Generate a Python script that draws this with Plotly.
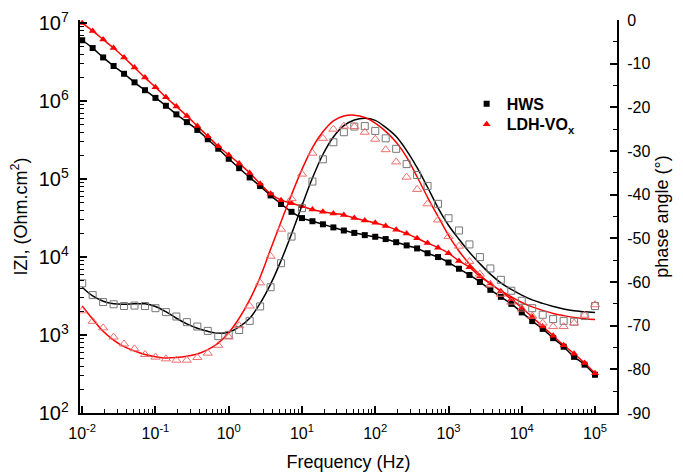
import plotly.graph_objects as go

# Frequency sweep (Hz), 7 points per decade
freq = [0.01, 0.01389, 0.01931, 0.02683, 0.03728, 0.05179, 0.07197,
        0.1, 0.1389, 0.1931, 0.2683, 0.3728, 0.5179, 0.7197,
        1, 1.389, 1.931, 2.683, 3.728, 5.179, 7.197,
        10, 13.89, 19.31, 26.83, 37.28, 51.79, 71.97,
        100, 138.9, 193.1, 268.3, 372.8, 517.9, 719.7,
        1000, 1389, 1931, 2683, 3728, 5179, 7197,
        10000, 13890, 19310, 26830, 37280, 51790, 71970,
        100000]

# x-axis decade ticks and labels
x_tickvals = [0.01, 0.1, 1, 10, 100, 1000, 10000, 100000]
x_ticktext = ["10<sup>-2</sup>", "10<sup>-1</sup>", "10<sup>0</sup>", "10<sup>1</sup>",
              "10<sup>2</sup>", "10<sup>3</sup>", "10<sup>4</sup>", "10<sup>5</sup>"]

# phase axis ticks and labels
ph_tickvals = [0, -10, -20, -30, -40, -50, -60, -70, -80, -90]
ph_ticktext = ["0", "-10", "-20", "-30", "-40", "-50", "-60", "-70", "-80", "-90"]

# |Z| (Ohm.cm2)
z_hws = [6.03e6, 4.79e6, 3.63e6, 2.82e6, 2.24e6, 1.74e6, 1.38e6,
         1.10e6, 8.71e5, 6.76e5, 5.37e5, 4.27e5, 3.24e5, 2.45e5,
         1.82e5, 1.38e5, 1.05e5, 8.13e4, 6.17e4, 4.79e4, 3.80e4,
         3.16e4, 2.88e4, 2.63e4, 2.40e4, 2.19e4, 2.04e4, 1.91e4,
         1.82e4, 1.70e4, 1.55e4, 1.41e4, 1.29e4, 1.12e4, 1.00e4,
         8.51e3, 7.08e3, 5.89e3, 4.79e3, 3.80e3, 3.09e3, 2.51e3,
         1.95e3, 1.51e3, 1.20e3, 912, 708, 525, 417,
         309]
z_ldh = [1.00e7, 7.94e6, 6.17e6, 4.79e6, 3.63e6, 2.69e6, 2.00e6,
         1.51e6, 1.12e6, 8.51e5, 6.46e5, 4.79e5, 3.55e5, 2.63e5,
         2.04e5, 1.58e5, 1.20e5, 8.71e4, 6.46e4, 5.37e4, 4.90e4,
         4.47e4, 4.07e4, 3.80e4, 3.63e4, 3.47e4, 3.16e4, 2.95e4,
         2.75e4, 2.51e4, 2.24e4, 2.00e4, 1.74e4, 1.51e4, 1.32e4,
         1.12e4, 8.91e3, 7.41e3, 5.62e3, 4.57e3, 3.63e3, 2.88e3,
         2.24e3, 1.70e3, 1.29e3, 977, 741, 575, 437,
         324]

# Phase angle (deg), measured
ph_hws = [-60.3, -63.0, -64.6, -65.1, -65.5, -65.4, -65.5,
          -66.0, -66.9, -67.9, -69.2, -70.2, -71.2, -72.4,
          -72.1, -71.0, -68.9, -65.6, -61.2, -55.7, -49.6,
          -43.1, -37.0, -31.9, -28.0, -25.7, -24.4, -24.3,
          -25.4, -27.1, -29.5, -33.0, -35.5, -38.0, -42.1,
          -45.4, -48.2, -51.4, -54.3, -56.9, -59.5, -62.0,
          -64.3, -66.0, -67.5, -68.5, -68.9, -69.1, -67.8,
          -65.5]
ph_ldh = [-66.6, -69.0, -70.5, -72.6, -74.2, -75.3, -76.6,
          -77.2, -77.6, -77.9, -77.9, -77.3, -76.3, -74.5,
          -72.6, -70.0, -65.5, -60.2, -54.1, -47.9, -40.9,
          -35.3, -30.5, -27.1, -25.0, -24.3, -24.4, -25.7,
          -27.3, -29.7, -32.5, -36.0, -38.8, -42.1, -45.8,
          -49.6, -51.8, -55.3, -58.2, -60.7, -62.8, -64.6,
          -66.2, -67.8, -69.4, -70.2, -70.2, -69.4, -67.6,
          -65.2]

# Phase angle (deg), fitted curves
fit_hws = [-61.2, -63.2, -64.4, -65.0, -65.1, -65.0, -65.0,
           -65.6, -66.8, -68.3, -69.6, -70.6, -71.3, -71.7,
           -71.5, -70.3, -68.3, -64.9, -60.5, -55.1, -49.0,
           -42.5, -36.2, -30.8, -26.8, -24.2, -22.9, -22.5,
           -23.0, -24.6, -26.7, -29.9, -33.8, -38.3, -43.0,
           -47.0, -50.2, -53.2, -55.8, -58.2, -60.2, -61.7,
           -63.0, -64.1, -64.9, -65.6, -66.2, -66.6, -66.8,
           -67.0]
fit_ldh = [-65.5, -68.5, -71.3, -73.3, -74.8, -75.8, -76.6,
           -77.1, -77.4, -77.3, -77.0, -76.5, -75.5, -74.0,
           -71.6, -68.3, -64.1, -58.9, -52.5, -46.2, -40.0,
           -34.2, -29.2, -25.6, -23.1, -22.0, -21.8, -22.3,
           -23.6, -25.5, -28.0, -31.4, -35.9, -40.6, -45.0,
           -49.3, -52.9, -55.9, -58.4, -60.4, -62.0, -63.4,
           -64.7, -65.7, -66.5, -67.2, -67.7, -68.1, -68.4,
           -68.6]

FONT = "Arial, Liberation Sans, sans-serif"
RED = "#ff0000"

fig = go.Figure()

# |Z| curves
fig.add_trace(go.Scatter(x=freq, y=z_hws, mode="lines", showlegend=False,
                         line=dict(color="black", width=1.5, shape="spline")))
fig.add_trace(go.Scatter(x=freq, y=z_ldh, mode="lines", showlegend=False,
                         line=dict(color=RED, width=1.5, shape="spline")))
fig.add_trace(go.Scatter(x=freq, y=z_hws, mode="markers", name="<b>HWS</b>",
                         legend="legend",
                         marker=dict(symbol="square", size=6, color="black")))
fig.add_trace(go.Scatter(x=freq, y=z_ldh, mode="markers", name="<b>LDH-VO<sub>x</sub></b>",
                         legend="legend2",
                         marker=dict(symbol="triangle-up", size=7, color=RED)))

# Phase curves
fig.add_trace(go.Scatter(x=freq, y=fit_hws, yaxis="y2", mode="lines", showlegend=False,
                         line=dict(color="black", width=1.5, shape="spline")))
fig.add_trace(go.Scatter(x=freq, y=fit_ldh, yaxis="y2", mode="lines", showlegend=False,
                         line=dict(color=RED, width=1.5, shape="spline")))
fig.add_trace(go.Scatter(x=freq, y=ph_hws, yaxis="y2", mode="markers", showlegend=False,
                         marker=dict(symbol="square-open", size=7, color="#777777",
                                     line=dict(width=1))))
fig.add_trace(go.Scatter(x=freq, y=ph_ldh, yaxis="y2", mode="markers", showlegend=False,
                         marker=dict(symbol="triangle-up-open", size=8, color="#ee7070",
                                     line=dict(width=1))))

axis_common = dict(showgrid=False, zeroline=False, showline=True, linecolor="black",
                   linewidth=2, ticks="inside", ticklen=7, tickwidth=1.5, tickcolor="black",
                   automargin=False,
                   tickfont=dict(family=FONT, size=16, color="black"))

legend_common = dict(xanchor="left", yanchor="top", bgcolor="rgba(0,0,0,0)",
                     font=dict(family=FONT, size=16, color="black"))

# The page adds an 8px body margin, so the figure is sized/margined to compensate.
fig.update_layout(
    width=672, height=466,
    margin=dict(l=72, r=63, t=12, b=61),
    paper_bgcolor="white", plot_bgcolor="white",
    font=dict(family=FONT, color="black"),
    xaxis=dict(type="log", range=[-2.03, 5.3], tickvals=x_tickvals, ticktext=x_ticktext,
               minor=dict(ticks="inside", ticklen=4, tickwidth=1.2, tickcolor="black",
                          dtick="D1", showgrid=False),
               ticklabelstandoff=5,
               title=dict(text="Frequency (Hz)", font=dict(family=FONT, size=18), standoff=14),
               **axis_common),
    yaxis=dict(type="log", range=[2, 7.04], dtick=1, exponentformat="power",
               minor=dict(ticks="inside", ticklen=4, tickwidth=1.2, tickcolor="black",
                          dtick="D1", showgrid=False),
               ticklabelstandoff=6,
               title=dict(text="IZI, (Ohm.cm<sup>2</sup>)", font=dict(family=FONT, size=18),
                          standoff=7),
               **axis_common),
    yaxis2=dict(overlaying="y", side="right", anchor="x", range=[-90, 0],
                tickvals=ph_tickvals, ticktext=ph_ticktext,
                minor=dict(ticks="inside", ticklen=4, tickwidth=1.2, tickcolor="black",
                           dtick=5, tick0=0, showgrid=False),
                ticklabelstandoff=5,
                title=dict(text="phase angle (°)", font=dict(family=FONT, size=18), standoff=6),
                **axis_common),
    legend=dict(x=0.72, y=0.83, **legend_common),
    legend2=dict(x=0.72, y=0.778, **legend_common),
)

fig.write_html("out.html")
